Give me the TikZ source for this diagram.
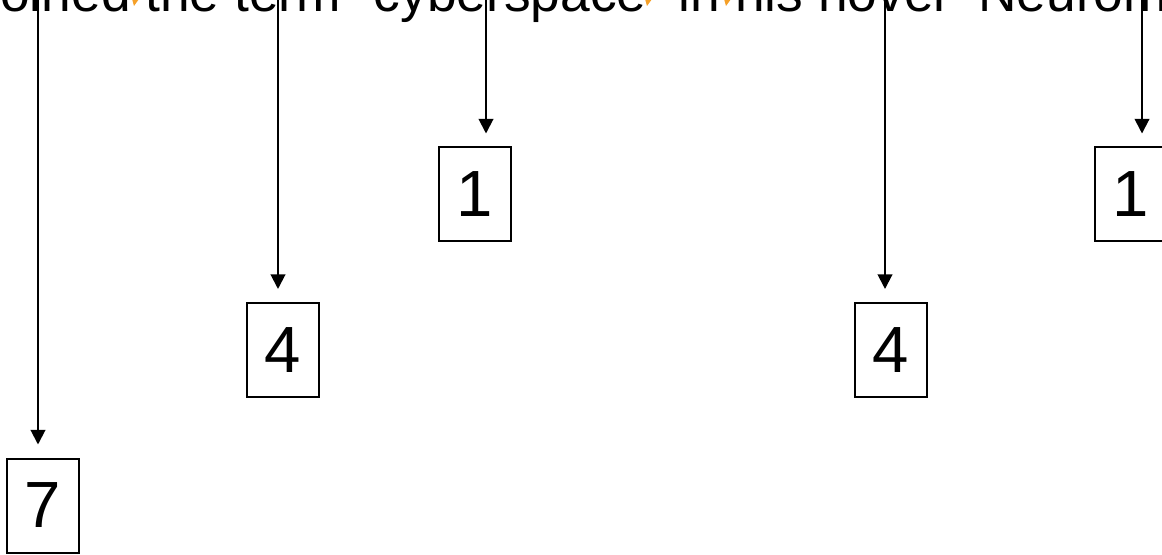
\documentclass[tikz,border=0pt]{standalone}
\usepackage{fontspec}
\setmainfont{Liberation Sans}
\usetikzlibrary{arrows.meta}

\begin{document}
\begin{tikzpicture}[x=0.75pt,y=-0.75pt]

	\tikzstyle count box=[draw, line width=1.5pt, minimum width=54pt, minimum height=70.5pt, inner sep=0pt, font=\fontsize{49}{49}\selectfont];
	\tikzstyle link lines=[line width=1.5pt, -{Triangle[length=11pt,width=11pt]}, shorten >=9.75pt];
	\tikzstyle gap marks=[fill={rgb,255:red,245;green,160;blue,40}];

	\useasboundingbox (0,0) rectangle (1162,555);
	\clip (0,0) rectangle (1162,555);

	\node[anchor=base west, inner sep=0pt, font=\fontsize{40}{40}\selectfont] (sentence) at (-26.7,12) {coined the term "cyberspace" in his novel "Neuromancer"};
		\foreach \x in {135,648,727}
			\fill[gap marks] (\x-3,-1) -- (\x+4,-1) -- (\x-1,6) -- cycle;

	\foreach \name/\bx/\by/\ax/\num in {b7/43/505.5/38/7,b4a/283/350/278/4,b1a/474.5/194.5/486/1,b4b/890.5/350/885/4,b1b/1130.5/194.5/1142/1}
	{
		\node[count box] (\name) at (\bx,\by) {\num};
		\coordinate (\name top) at (\ax,-5);
		\draw[link lines] (\name top) -- (\name top |- \name.north);
	}

\end{tikzpicture}
\end{document}
